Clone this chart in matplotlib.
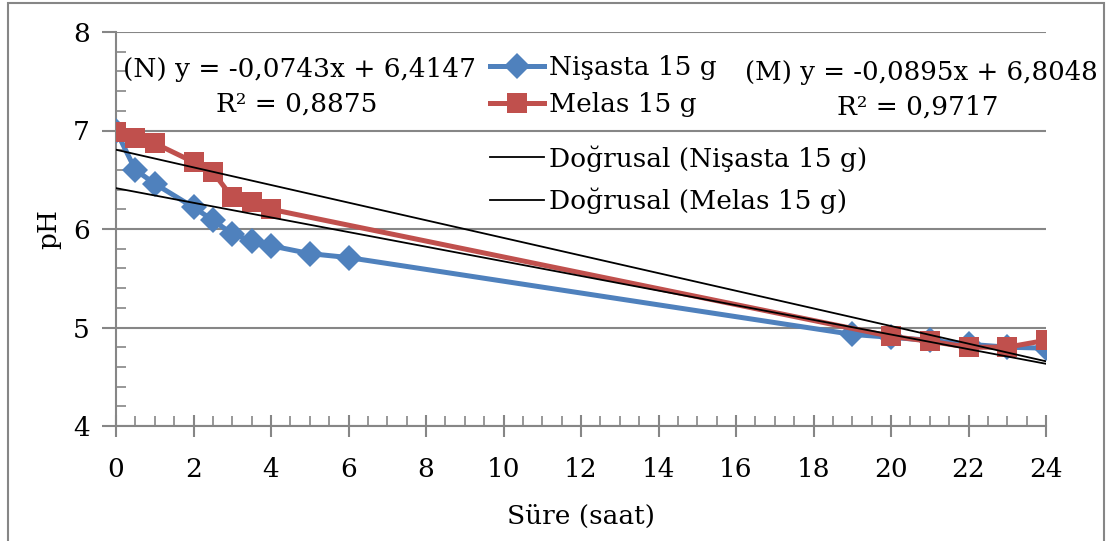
import matplotlib
matplotlib.use("Agg")
import matplotlib.pyplot as plt
import numpy as np
from matplotlib.patches import Rectangle
from matplotlib.ticker import MultipleLocator

plt.rcParams['font.family'] = ['DejaVu Serif']

# Sampling times (hours) and measured pH
nisasta_t = [0, 0.5, 1, 2, 2.5, 3, 3.5, 4, 5, 6, 19, 20, 21, 22, 23, 24]
nisasta_ph = [7.00, 6.60, 6.46, 6.22, 6.09, 5.95, 5.88, 5.83, 5.75, 5.71,
              4.93, 4.90, 4.87, 4.83, 4.80, 4.79]

melas_t = [0, 0.5, 1, 2, 2.5, 3, 3.5, 4, 20, 21, 22, 23, 24]
melas_ph = [6.98, 6.92, 6.87, 6.68, 6.58, 6.32, 6.27, 6.20,
            4.91, 4.86, 4.80, 4.80, 4.87]

# Linear fits (slope, intercept, R²)
fit_n = (-0.0743, 6.4147, 0.8875)
fit_m = (-0.0895, 6.8048, 0.9717)

series_labels = ["Nişasta 15 g", "Melas 15 g",
                 "Doğrusal (Nişasta 15 g)", "Doğrusal (Melas 15 g)"]
x_label = "Süre (saat)"
y_label = "pH"

blue = "#4F81BD"
red = "#C0504D"
axis_gray = "#868686"

fig = plt.figure(figsize=(11.12, 5.41), dpi=100)
ax = fig.add_axes([116 / 1112, 1 - 426 / 541, (1046 - 116) / 1112, (426 - 32) / 541])

# outer chart frame
fig.patches.append(Rectangle((8 / 1112, -0.05), (1104 - 8) / 1112, 1.05 - 3 / 541,
                             transform=fig.transFigure, fill=False,
                             edgecolor=axis_gray, linewidth=1.5))

fs = 19

l1, = ax.plot(nisasta_t, nisasta_ph, color=blue, linewidth=3.6, marker='D',
              markersize=13.5, markeredgewidth=0, zorder=3)
l2, = ax.plot(melas_t, melas_ph, color=red, linewidth=3.6, marker='s',
              markersize=15, markeredgewidth=0, zorder=4)

xs = np.array([0, 24])
l3, = ax.plot(xs, fit_n[0] * xs + fit_n[1], color='black', linewidth=1.3, zorder=5)
l4, = ax.plot(xs, fit_m[0] * xs + fit_m[1], color='black', linewidth=1.3, zorder=5)

ax.set_xlim(0, 24)
ax.set_ylim(4, 8)
ax.xaxis.set_major_locator(MultipleLocator(2))
ax.xaxis.set_minor_locator(MultipleLocator(0.5))
ax.yaxis.set_major_locator(MultipleLocator(1))
ax.yaxis.set_minor_locator(MultipleLocator(0.2))

for s in ['top', 'right']:
    ax.spines[s].set_visible(False)
for s in ['left', 'bottom']:
    ax.spines[s].set_color(axis_gray)
    ax.spines[s].set_linewidth(1.5)
ax.spines['bottom'].set_zorder(2)

ax.grid(axis='y', which='major', color=axis_gray, linewidth=1.5, zorder=1)
ax.set_axisbelow(True)

ax.tick_params(axis='x', which='major', direction='inout', length=16, width=1.5,
               color=axis_gray, labelsize=fs, pad=14)
ax.tick_params(axis='x', which='minor', direction='in', length=7, width=1.2,
               color=axis_gray)
ax.tick_params(axis='y', which='major', direction='out', length=10, width=1.5,
               color=axis_gray, labelsize=fs, pad=9)
ax.tick_params(axis='y', which='minor', direction='in', length=7, width=1.2,
               color=axis_gray)

ax.set_xlabel(x_label, fontsize=fs, labelpad=16)
ax.set_ylabel(y_label, fontsize=fs, labelpad=8)


def fmt(v):
    return f"{v:.4f}".replace('.', ',')


eq_n = f"(N) y = {fmt(fit_n[0])}x + {fmt(fit_n[1])}"
eq_m = f"(M) y = {fmt(fit_m[0])}x + {fmt(fit_m[1])}"
fig.text(123 / 1112, 1 - 70 / 541, eq_n, fontsize=fs, va='center', ha='left')
fig.text(297 / 1112, 1 - 104 / 541, f"R² = {fmt(fit_n[2])}", fontsize=fs,
         va='center', ha='center')
fig.text(745 / 1112, 1 - 73 / 541, eq_m, fontsize=18.7, va='center', ha='left')
fig.text(918 / 1112, 1 - 107 / 541, f"R² = {fmt(fit_m[2])}", fontsize=fs,
         va='center', ha='center')

# series legend (markers) and trend-line legend
leg_a = ax.legend([l1, l2], series_labels[:2], loc='upper left',
                  bbox_to_anchor=(490 / 1112, 1 - 55 / 541),
                  bbox_transform=fig.transFigure, frameon=False, fontsize=fs,
                  handlelength=2.05, handletextpad=0.2, labelspacing=0.45,
                  borderpad=0, borderaxespad=0)
ax.add_artist(leg_a)
ax.legend([l3, l4], series_labels[2:], loc='upper left',
          bbox_to_anchor=(490 / 1112, 1 - 145 / 541),
          bbox_transform=fig.transFigure, frameon=False, fontsize=fs,
          handlelength=2.05, handletextpad=0.2, labelspacing=0.6,
          borderpad=0, borderaxespad=0)

fig.savefig("out.png", dpi=100)
